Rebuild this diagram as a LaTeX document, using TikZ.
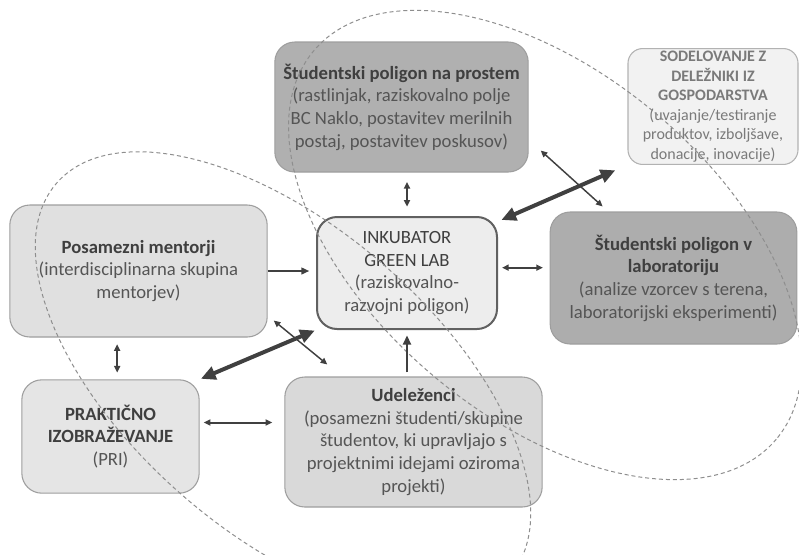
\documentclass[tikz,border=0pt]{standalone}
\usepackage{fontspec}
\setmainfont{Carlito}
\usetikzlibrary{arrows.meta}
\definecolor{txtdark}{HTML}{3F3F3F}
\definecolor{txtmid}{HTML}{555555}
\definecolor{arrgray}{HTML}{404040}
\definecolor{dashgray}{HTML}{8E8E8E}

\begin{document}
\begin{tikzpicture}[x=0.75pt, y=-0.75pt,
  box/.style={draw=black!38, line width=0.8pt, rounded corners=15pt, align=center,
    text=txtmid, font=\fontsize{14}{17}\selectfont, inner sep=2pt},
  thinarr/.style={arrgray, line width=1.1pt, {Triangle[length=5pt,width=4.5pt]}-{Triangle[length=5pt,width=4.5pt]}},
  fatarr/.style={arrgray, line width=3pt, {Triangle[length=11pt,width=10pt]}-{Triangle[length=11pt,width=10pt]}},
  ring/.style={dashgray, dashed, dash pattern=on 3pt off 2.2pt, line width=0.75pt}]
  \useasboundingbox (0,0) rectangle (799,554);

  % boxes
  \node[box, fill=black!31, minimum width=190pt, minimum height=97.5pt] (prostem) at (401.5,107)
    {\textbf{\color{txtdark}Študentski poligon na prostem}\\(rastlinjak, raziskovalno polje\\BC Naklo, postavitev merilnih\\postaj, postavitev poskusov)};
  \node[box, fill=black!5, draw=black!30, rounded corners=11pt, text=black!52,
    font=\fontsize{12}{14.6}\selectfont, minimum width=127.5pt, minimum height=85pt] (sodel) at (713,106.5)
    {\textbf{SODELOVANJE Z}\\\textbf{DELEŽNIKI IZ}\\\textbf{GOSPODARSTVA}\\(uvajanje/testiranje\\produktov, izboljšave,\\donacije, inovacije)};
  \node[box, fill=black!12, minimum width=193pt, minimum height=99pt] (mentorji) at (138.5,271)
    {\textbf{\color{txtdark}Posamezni mentorji}\\(interdisciplinarna skupina\\mentorjev)};
  \node[box, fill=black!7, draw=black!62, line width=1.5pt, minimum width=135pt, minimum height=84pt] (inkub) at (407,273)
    {{\color{txtdark}INKUBATOR}\\{\color{txtdark}GREEN LAB}\\(raziskovalno-\\razvojni poligon)};
  \node[box, fill=black!32, minimum width=185pt, minimum height=99pt] (lab) at (673.5,278)
    {\textbf{\color{txtdark}Študentski poligon v}\\\textbf{\color{txtdark}laboratoriju}\\(analize vzorcev s terena,\\laboratorijski eksperimenti)};
  \node[box, fill=black!10, minimum width=133pt, minimum height=85pt] (prakt) at (110.5,436.5)
    {\textbf{\color{txtdark}PRAKTIČNO}\\\textbf{\color{txtdark}IZOBRAŽEVANJE}\\(PRI)};
  \node[box, fill=black!15, minimum width=193pt, minimum height=97.5pt] (udel) at (413.5,442)
    {\textbf{\color{txtdark}Udeleženci}\\(posamezni študenti/skupine\\študentov, ki upravljajo s\\projektnimi idejami oziroma\\projekti)};

  % dashed rings
  \draw[ring, rotate around={-40:(545,245)}] (545,245) ellipse [x radius=302, y radius=172];
  \draw[ring, rotate around={-41:(283,380)}] (283,380) ellipse [x radius=300, y radius=153];

  % connectors
  \draw[arrgray, line width=1.5pt, -{Triangle[length=6pt,width=5pt]}, shorten >=5pt]
    (mentorji.east) -- (mentorji.east -| inkub.west);
  \draw[thinarr, line width=1.8pt, shorten <=7pt, shorten >=7pt] (inkub.north) -- (inkub.north |- prostem.south);
  \draw[thinarr, line width=1.5pt, shorten <=3pt, shorten >=5pt] ([yshift=4pt]inkub.east) -- ([yshift=4pt]inkub.east -| lab.west);
  \draw[fatarr, shorten <=2pt, shorten >=10pt] ([shift={(1,5)}]inkub.north east) -- (sodel.south west);
  \draw[thinarr] ([shift={(12,-22)}]prostem.south east) -- ([shift={(53,-5)}]lab.north west);
  \draw[fatarr, shorten <=1pt, shorten >=1pt] (prakt.north east) -- (inkub.south west);
  \draw[thinarr] ([shift={(6,-17)}]mentorji.south east) -- ([shift={(43,-12)}]udel.north west);
  \draw[thinarr, line width=1.5pt, shorten <=5pt, shorten >=5pt] ([xshift=5pt]prakt.north) -- ([xshift=5pt]prakt.north |- mentorji.south);
  \draw[thinarr, line width=1.5pt, shorten <=3pt, shorten >=9pt] ([shift={(0,-14)}]prakt.east) -- ([shift={(0,-14)}]prakt.east -| udel.west);
  \draw[arrgray, line width=2.2pt, -{Triangle[length=7pt,width=6pt]}, shorten <=3pt, shorten >=4pt]
    (inkub.south |- udel.north) -- (inkub.south);
\end{tikzpicture}
\end{document}
